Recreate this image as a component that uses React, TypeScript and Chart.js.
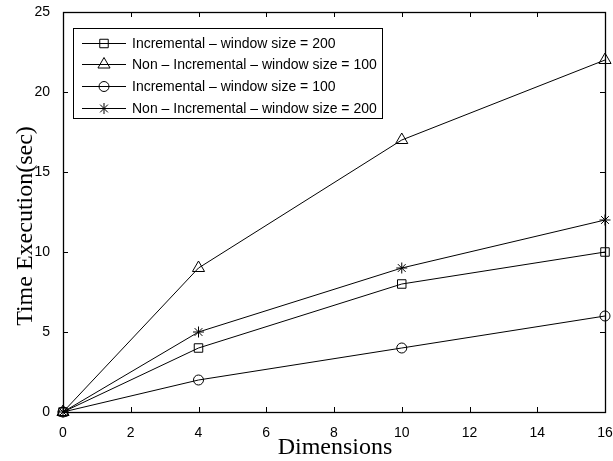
import React, { useEffect, useRef } from 'react';
import { Chart, registerables } from 'chart.js';
import { drawPoint } from 'chart.js/helpers';

Chart.register(...registerables);

const dimensions = [0, 4, 10, 16];
const incremental200 = [0, 4, 8, 10];
const nonIncremental100 = [0, 9, 17, 22];
const incremental100 = [0, 2, 4, 6];
const nonIncremental200 = [0, 5, 9, 12];

const seriesLabels = [
  'Incremental \u2013 window size = 200',
  'Non \u2013 Incremental \u2013 window size = 100',
  'Incremental \u2013 window size = 100',
  'Non \u2013 Incremental \u2013 window size = 200',
];
const seriesValues = [incremental200, nonIncremental100, incremental100, nonIncremental200];
const seriesMarkers = ['rect', 'triangle', 'circle', 'star'];
const markerRadius = [6, 7, 5, 5.5];

const xTickValues = [0, 2, 4, 6, 8, 10, 12, 14, 16];
const yTickValues = [0, 5, 10, 15, 20, 25];
const xTitle = 'Dimensions';
const yTitle = 'Time Execution(sec)';

const SANS = '"Liberation Sans", Arial, Helvetica, sans-serif';
const SERIF = '"Liberation Serif", "Times New Roman", serif';

const matlabPlugin = {
  id: 'matlab',
  afterDraw(chart: any) {
    const { ctx, chartArea } = chart;
    const { left, right, top, bottom } = chartArea;
    const xs = chart.scales.x;
    const ys = chart.scales.y;
    ctx.save();
    ctx.strokeStyle = '#000';
    ctx.lineWidth = 1.3;
    ctx.strokeRect(Math.round(left) + 0.5, Math.round(top) + 0.5, Math.round(right - left), Math.round(bottom - top));
    const tl = 5;
    ctx.lineWidth = 1;
    ctx.beginPath();
    xTickValues.forEach((v) => {
      const px = Math.round(xs.getPixelForValue(v)) + 0.5;
      ctx.moveTo(px, bottom);
      ctx.lineTo(px, bottom - tl);
      ctx.moveTo(px, top);
      ctx.lineTo(px, top + tl);
    });
    yTickValues.forEach((v) => {
      const py = Math.round(ys.getPixelForValue(v)) + 0.5;
      ctx.moveTo(left, py);
      ctx.lineTo(left + tl, py);
      ctx.moveTo(right, py);
      ctx.lineTo(right - tl, py);
    });
    ctx.stroke();

    ctx.fillStyle = '#000';
    ctx.font = `24px ${SERIF}`;
    ctx.textAlign = 'center';
    ctx.textBaseline = 'alphabetic';
    ctx.fillText(xTitle, 335, 454);
    ctx.save();
    ctx.translate(32, 226);
    ctx.rotate(-Math.PI / 2);
    ctx.fillText(yTitle, 0, 0);
    ctx.restore();

    const lx = 73.5, ly = 28.5, lw = 309, lh = 90;
    ctx.fillStyle = '#fff';
    ctx.fillRect(lx, ly, lw, lh);
    ctx.lineWidth = 1;
    ctx.strokeRect(lx, ly, lw, lh);
    ctx.font = `14px ${SANS}`;
    ctx.textAlign = 'left';
    ctx.textBaseline = 'middle';
    chart.data.datasets.forEach((ds: any, i: number) => {
      const y = Math.round(ly + 14 + i * 21.7) + 0.5;
      ctx.strokeStyle = '#000';
      ctx.lineWidth = 1;
      ctx.beginPath();
      ctx.moveTo(82, y);
      ctx.lineTo(126, y);
      ctx.stroke();
      ctx.fillStyle = 'rgba(0,0,0,0)';
      drawPoint(ctx, { pointStyle: ds.pointStyle, radius: ds.pointRadius, borderWidth: 1, rotation: 0 } as any, 104, y);
      ctx.fillStyle = '#000';
      ctx.fillText(ds.label, 132, y + 1);
    });
    ctx.restore();
  },
};

export default function App() {
  const ref = useRef<HTMLCanvasElement>(null);
  useEffect(() => {
    if (!ref.current) return;
    const chart = new Chart(ref.current, {
      type: 'line',
      data: {
        datasets: seriesValues.map((vals, i) => ({
          label: seriesLabels[i],
          data: dimensions.map((d, j) => ({ x: d, y: vals[j] })),
          borderColor: '#000',
          borderWidth: 1,
          backgroundColor: 'rgba(0,0,0,0)',
          pointStyle: seriesMarkers[i] as any,
          pointRadius: markerRadius[i],
          pointBorderColor: '#000',
          pointBackgroundColor: 'rgba(0,0,0,0)',
          pointBorderWidth: 1,
          tension: 0,
          clip: false as any,
        })),
      },
      options: {
        animation: false,
        responsive: false,
        devicePixelRatio: 1,
        layout: { padding: { top: 12, right: 8, left: 0, bottom: 0 } },
        plugins: { legend: { display: false }, tooltip: { enabled: false } },
        scales: {
          x: {
            type: 'linear',
            min: 0,
            max: 16,
            afterBuildTicks: (s: any) => { s.ticks = xTickValues.map((v) => ({ value: v })); },
            ticks: { color: '#000', font: { family: SANS, size: 14 }, padding: 5, maxRotation: 0, autoSkip: false },
            grid: { display: false },
            border: { display: false },
            afterFit: (s: any) => { s.height = 49; s.paddingLeft = 0; s.paddingRight = 0; },
          },
          y: {
            type: 'linear',
            min: 0,
            max: 25,
            afterBuildTicks: (s: any) => { s.ticks = yTickValues.map((v) => ({ value: v })); },
            ticks: { color: '#000', font: { family: SANS, size: 14 }, padding: 5, autoSkip: false },
            grid: { display: false },
            border: { display: false },
            afterFit: (s: any) => { s.width = 63; s.paddingTop = 0; s.paddingBottom = 0; },
          },
        },
      },
      plugins: [matlabPlugin],
    });
    return () => chart.destroy();
  }, []);
  return (
    <div style={{ position: 'fixed', left: 0, top: 0, width: 613, height: 461, background: '#fff' }}>
      <canvas ref={ref} width={613} height={461} style={{ display: 'block', width: 613, height: 461 }} />
    </div>
  );
}
